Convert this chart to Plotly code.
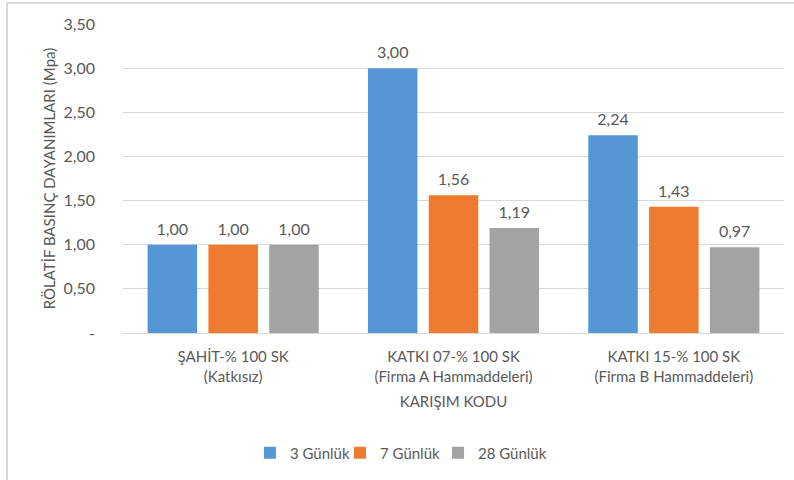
import plotly.graph_objects as go

# Mix codes (x categories) and relative compressive strengths per curing age
categories = [
    "ŞAHİT-% 100 SK<br>(Katkısız)",
    "KATKI 07-% 100 SK<br>(Firma A Hammaddeleri)",
    "KATKI 15-% 100 SK<br>(Firma B Hammaddeleri)",
]
series_names = ["3 Günlük", "7 Günlük", "28 Günlük"]
day3 = [1.00, 3.00, 2.24]
day7 = [1.00, 1.56, 1.43]
day28 = [1.00, 1.19, 0.97]
tick_values = [0, 0.5, 1.0, 1.5, 2.0, 2.5, 3.0, 3.5]
tick_labels = ["-", "0,50", "1,00", "1,50", "2,00", "2,50", "3,00", "3,50"]

colors = ["#5597d5", "#ee7b2e", "#a3a3a3"]
text_color = "#595959"
font_family = "Lato, 'Open Sans', sans-serif"
gap = 0.172

legend_ids = ["legend", "legend2", "legend3"]
legend_x = [0.192, 0.3283, 0.4766]

fig = go.Figure()
for i, (name, vals, col) in enumerate(zip(series_names, [day3, day7, day28], colors)):
    fig.add_trace(go.Bar(
        x=categories,
        y=vals,
        name=name,
        offsetgroup=str(i),
        legend=legend_ids[i],
        marker=dict(color=col, line=dict(width=0)),
        hoverinfo="skip",
    ))

# Value labels floating above each bar
for i, vals in enumerate([day3, day7, day28]):
    fig.add_trace(go.Scatter(
        x=categories,
        y=vals,
        mode="markers+text",
        offsetgroup=str(i),
        marker=dict(size=8, opacity=0),
        texttemplate="%{y:.2f}",
        textposition="top center",
        textfont=dict(size=16, color=text_color, family=font_family),
        showlegend=False,
        hoverinfo="skip",
        cliponaxis=False,
    ))

legend_style = dict(
    orientation="h",
    xanchor="left",
    y=-0.388,
    yanchor="middle",
    font=dict(size=15, color=text_color),
    bgcolor="rgba(0,0,0,0)",
)

fig.update_layout(
    width=794,
    height=480,
    margin=dict(l=123, r=10, t=24, b=147),
    paper_bgcolor="white",
    plot_bgcolor="white",
    separators=",.",
    barmode="group",
    scattermode="group",
    bargap=gap,
    scattergap=gap,
    bargroupgap=0.186,
    font=dict(family=font_family, size=16, color=text_color),
    showlegend=True,
    legend=dict(x=legend_x[0], **legend_style),
    legend2=dict(x=legend_x[1], **legend_style),
    legend3=dict(x=legend_x[2], **legend_style),
    xaxis=dict(
        showgrid=False,
        showline=True,
        linecolor="#d9d9d9",
        linewidth=1,
        ticks="",
        ticklabelstandoff=10,
        tickfont=dict(size=15, color=text_color),
        title=dict(text="KARIŞIM KODU", font=dict(size=15, color=text_color), standoff=12),
    ),
    yaxis=dict(
        range=[0, 3.5],
        tickvals=tick_values,
        ticktext=tick_labels,
        showgrid=True,
        gridcolor="#d9d9d9",
        gridwidth=1,
        zeroline=False,
        showline=False,
        ticks="",
        ticklen=0,
        ticklabelstandoff=27,
        tickfont=dict(size=16, color=text_color),
        title=dict(text="RÖLATİF BASINÇ DAYANIMLARI (Mpa)", font=dict(size=15, color=text_color), standoff=4),
    ),
    shapes=[
        dict(type="rect", xref="paper", yref="paper",
             x0=-0.1755, x1=1.2, y0=-0.6, y1=1.068,
             line=dict(color="#d9d9d9", width=2), layer="below"),
    ],
)

fig.write_html("out.html")
